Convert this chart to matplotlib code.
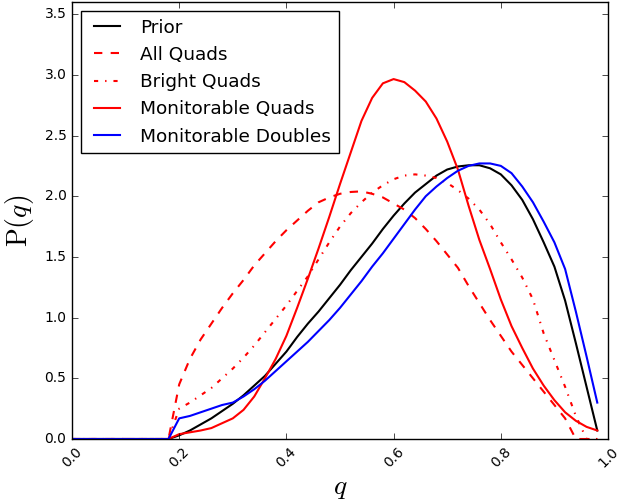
import matplotlib
matplotlib.use("Agg")
import matplotlib.pyplot as plt  # type: ignore
import numpy as np  # type: ignore

plt.style.use("classic")
plt.rcParams["mathtext.fontset"] = "cm"

# mass ratio grid
q = np.arange(50) * 0.02

zeros = [0.0] * 10  # q = 0.00 .. 0.18

prior = zeros + [
    0.03, 0.07, 0.12, 0.17, 0.23, 0.29, 0.36, 0.44, 0.52, 0.62,
    0.72, 0.84, 0.95, 1.05, 1.16, 1.27, 1.39, 1.50, 1.61, 1.73,
    1.84, 1.94, 2.03, 2.10, 2.17, 2.22, 2.245, 2.255, 2.255, 2.23,
    2.18, 2.09, 1.97, 1.81, 1.62, 1.42, 1.14, 0.79, 0.43, 0.07,
]
all_quads = zeros + [
    0.45, 0.66, 0.82, 0.95, 1.08, 1.20, 1.31, 1.43, 1.53, 1.63,
    1.72, 1.80, 1.88, 1.95, 1.99, 2.02, 2.035, 2.04, 2.02, 1.99,
    1.94, 1.89, 1.82, 1.73, 1.63, 1.52, 1.41, 1.26, 1.12, 0.98,
    0.85, 0.72, 0.61, 0.50, 0.39, 0.28, 0.17, 0.0, 0.0, 0.0,
]
bright_quads = zeros + [
    0.25, 0.30, 0.36, 0.42, 0.50, 0.58, 0.67, 0.77, 0.88, 0.99,
    1.10, 1.22, 1.34, 1.48, 1.62, 1.75, 1.86, 1.95, 2.03, 2.09,
    2.14, 2.17, 2.18, 2.17, 2.15, 2.11, 2.05, 1.98, 1.89, 1.77,
    1.62, 1.48, 1.33, 1.15, 0.87, 0.65, 0.43, 0.19, 0.0, 0.0,
]
monitorable_quads = zeros + [
    0.04, 0.055, 0.07, 0.09, 0.13, 0.17, 0.24, 0.35, 0.50, 0.66,
    0.85, 1.08, 1.32, 1.57, 1.83, 2.10, 2.36, 2.62, 2.81, 2.93,
    2.965, 2.94, 2.87, 2.78, 2.64, 2.45, 2.22, 1.92, 1.64, 1.40,
    1.15, 0.93, 0.75, 0.58, 0.44, 0.32, 0.22, 0.15, 0.10, 0.07,
]
monitorable_doubles = zeros + [
    0.17, 0.19, 0.22, 0.25, 0.28, 0.30, 0.35, 0.41, 0.48, 0.56,
    0.64, 0.72, 0.80, 0.89, 0.98, 1.08, 1.19, 1.30, 1.42, 1.53,
    1.65, 1.77, 1.89, 2.00, 2.08, 2.15, 2.21, 2.25, 2.27, 2.27,
    2.25, 2.19, 2.08, 1.95, 1.79, 1.62, 1.40, 1.05, 0.68, 0.30,
]

fig = plt.figure(figsize=(6.33, 5.04), dpi=100, facecolor="white")
ax = fig.add_axes([72 / 633, 65 / 504, 536 / 633, 437 / 504])

lw = 1.5
ax.plot(q, prior, "k-", lw=lw, label="Prior")
ax.plot(q, all_quads, "r--", lw=lw, label="All Quads")
ax.plot(q, bright_quads, "r-.", lw=lw, label="Bright Quads")
ax.plot(q, monitorable_quads, "r-", lw=lw, label="Monitorable Quads")
ax.plot(q, monitorable_doubles, "b-", lw=lw, label="Monitorable Doubles")

ax.set_xlim(0, 1)
ax.set_ylim(0, 3.6)
ax.set_xticks(np.arange(0, 1.01, 0.2))
ax.set_yticks(np.arange(0, 3.51, 0.5))
ax.tick_params(labelsize=10)
plt.setp(ax.get_xticklabels(), rotation=45)

ax.set_xlabel(r"$q$", fontsize=20, labelpad=2)
ax.set_ylabel(r"$\mathrm{P}(q)$", fontsize=20, labelpad=6)

ax.legend(loc="upper left", fontsize=13.3)

fig.savefig("out.png", dpi=100, facecolor="white")
